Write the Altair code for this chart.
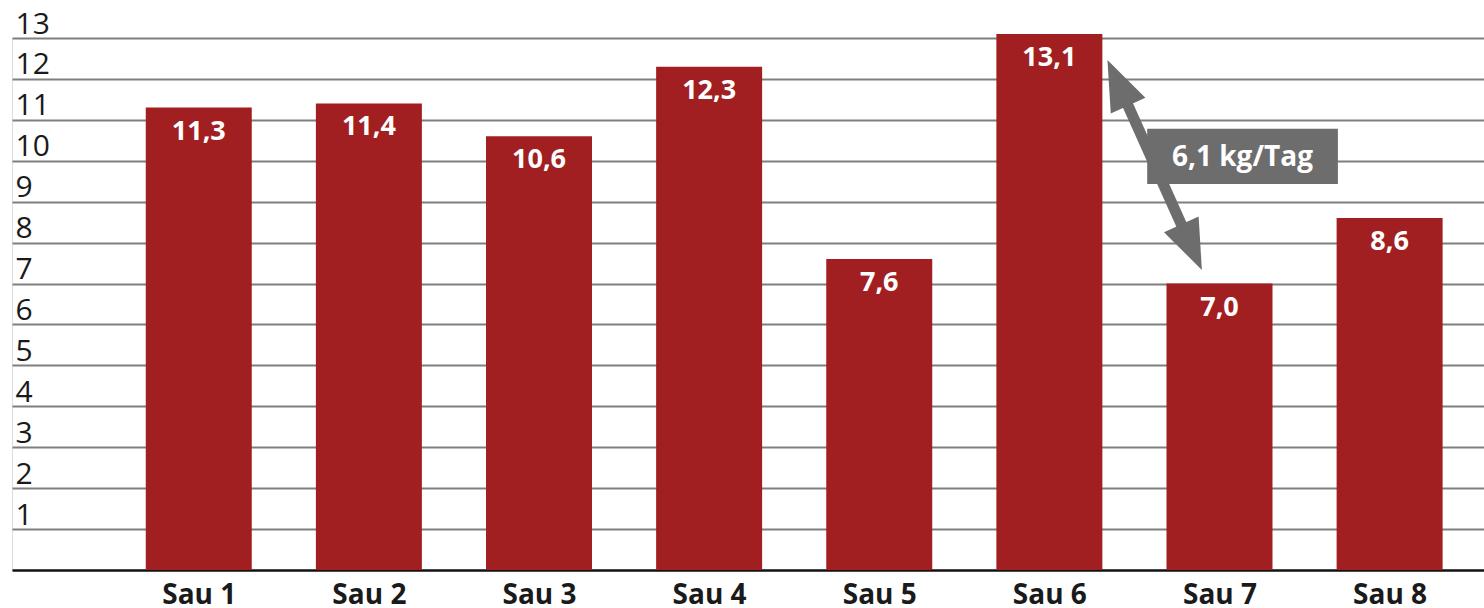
import altair as alt
import pandas as pd

# ---- data ----
sows = ["Sau 1", "Sau 2", "Sau 3", "Sau 4", "Sau 5", "Sau 6", "Sau 7", "Sau 8"]
sow_index = [1, 2, 3, 4, 5, 6, 7, 8]
values = [11.3, 11.4, 10.6, 12.3, 7.6, 13.1, 7.0, 8.6]
value_labels = ["11,3", "11,4", "10,6", "12,3", "7,6", "13,1", "7,0", "8,6"]
y_ticks = list(range(1, 14))

# annotation (in data coordinates: x = sow index, y = value)
arrow_x = [6.402, 6.836]
arrow_y = [11.905, 7.888]
arrow_angle = [335.66, 155.66]
box_x = [6.575, 7.696]
box_y = [9.43, 10.78]
box_text = "6,1 kg/Tag"
box_text_pos = [7.135, 10.07]

X_DOMAIN = [-0.0684, 8.5254]
BAR_RED = "#a21f21"
GRAY = "#6d6d6d"
FONT = "Open Sans"

df = pd.DataFrame({"sow": sows, "idx": sow_index, "value": values, "label": value_labels})

xscale = alt.Scale(domain=X_DOMAIN, nice=False, zero=False)
yscale = alt.Scale(domain=[0, 13], nice=False)

xaxis = alt.Axis(
    values=sow_index, labelExpr="'Sau ' + datum.value", title=None,
    ticks=False, tickSize=0, grid=False, domain=True, domainColor="#111111",
    domainWidth=2.5, labelFont=FONT, labelFontWeight="bold", labelFontSize=28,
    labelColor="#1a1a1a", labelPadding=11, labelBaseline="top",
)
yaxis = alt.Axis(
    values=y_ticks, title=None, ticks=False, tickSize=0, domain=False,
    grid=True, gridColor="#7f7f7f", gridWidth=2,
    labelFont=FONT, labelFontSize=30, labelColor="#1a1a1a",
    labelAlign="left", labelBaseline="alphabetic", labelPadding=-3,
    labelOffset=-5, labelBound=False, labelOverlap=False,
)

bars = alt.Chart(df).mark_bar(size=106, color=BAR_RED).encode(
    x=alt.X("idx:Q", scale=xscale, axis=xaxis),
    y=alt.Y("value:Q", scale=yscale, axis=yaxis),
)

bar_text = alt.Chart(df).mark_text(
    color="white", font=FONT, fontWeight="bold", fontSize=27,
    baseline="alphabetic", dy=32,
).encode(x=alt.X("idx:Q", scale=xscale), y=alt.Y("value:Q", scale=yscale), text="label:N")

arrow_df = pd.DataFrame({"x": [arrow_x[0]], "y": [arrow_y[0]], "x2": [arrow_x[1]], "y2": [arrow_y[1]]})
shaft = alt.Chart(arrow_df).mark_rule(color=GRAY, strokeWidth=11).encode(
    x=alt.X("x:Q", scale=xscale), y=alt.Y("y:Q", scale=yscale), x2="x2:Q", y2="y2:Q"
)

heads_df = pd.DataFrame({"x": arrow_x, "y": arrow_y, "angle": arrow_angle})
heads = alt.Chart(heads_df).mark_point(
    shape="M0,-1L0.76,1L-0.76,1Z", size=2500, filled=True, color=GRAY, opacity=1, strokeWidth=0
).encode(
    x=alt.X("x:Q", scale=xscale), y=alt.Y("y:Q", scale=yscale),
    angle=alt.Angle("angle:Q", scale=None),
)

box_df = pd.DataFrame({"x": [box_x[0]], "x2": [box_x[1]], "y": [box_y[0]], "y2": [box_y[1]]})
box = alt.Chart(box_df).mark_rect(color=GRAY).encode(
    x=alt.X("x:Q", scale=xscale), x2="x2:Q", y=alt.Y("y:Q", scale=yscale), y2="y2:Q"
)

box_label_df = pd.DataFrame({"x": [box_text_pos[0]], "y": [box_text_pos[1]], "t": [box_text]})
box_label = alt.Chart(box_label_df).mark_text(
    color="white", font=FONT, fontWeight="bold", fontSize=28, baseline="middle", align="center"
).encode(x=alt.X("x:Q", scale=xscale), y=alt.Y("y:Q", scale=yscale), text="t:N")

chart = alt.layer(bars, bar_text, shaft, heads, box, box_label).properties(
    width=1472, height=532,
    autosize=alt.AutoSizeParams(type="none"),
    padding={"left": 12, "top": 38, "right": 0, "bottom": 38},
).configure_view(stroke=None).configure(background="white")

chart.save("out.html", embed_options={"renderer": "svg", "actions": False})
